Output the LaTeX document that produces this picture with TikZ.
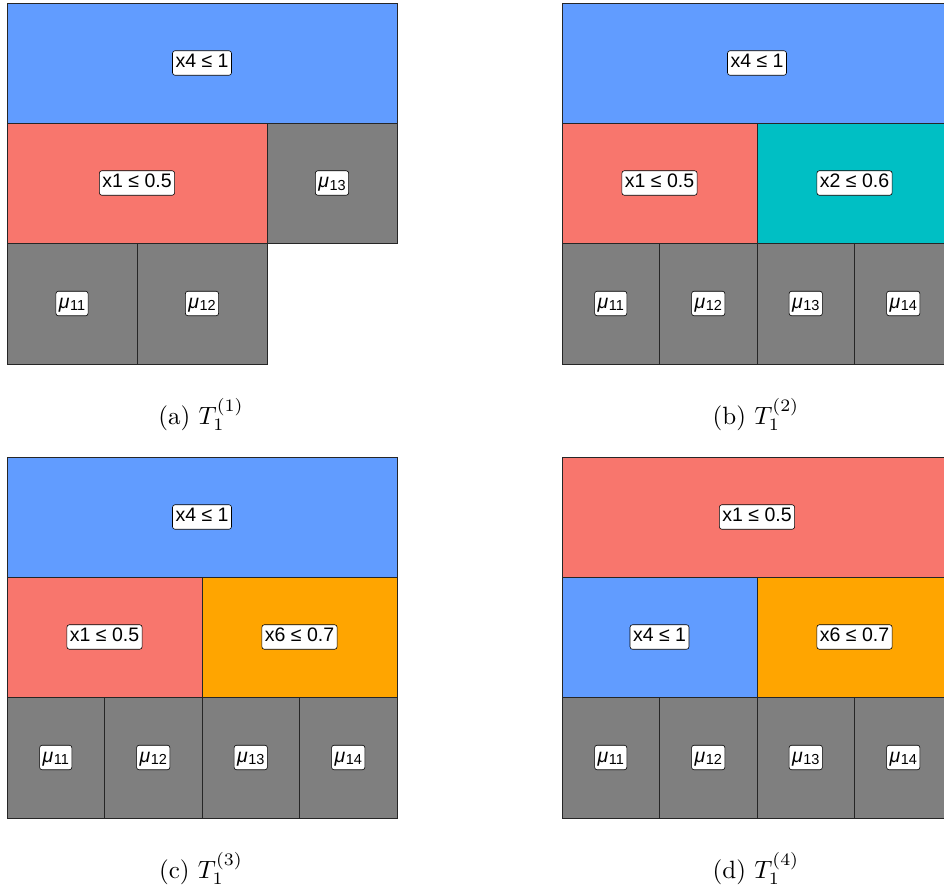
\documentclass[tikz,border=0pt]{standalone}
\usepackage{fontspec}
\usepackage{graphicx}
\newfontfamily\lblfont{Liberation Sans}
\usetikzlibrary{calc}
\definecolor{cblue}{HTML}{619CFF}
\definecolor{cred}{HTML}{F8766D}
\definecolor{ccyan}{HTML}{00BFC4}
\definecolor{corange}{HTML}{FFA500}
\definecolor{cgray}{HTML}{7F7F7F}
\newcommand\mycell[7]{%
  \filldraw[fill=#5, cellline] (#1,#2) rectangle ++(#3,#4);
  \node[lbl] (#6) at ({#1+#3/2},{#2+#4/2}) {#7};}
\newcommand\mymu[1]{{\itshape μ}\kern0.5pt\raisebox{-2.5pt}{\fontsize{14.5}{14.5}\selectfont #1}}
\newcommand\mycap[1]{\scalebox{2.5}{\fontsize{10}{12}\selectfont #1}}
\tikzset{
  cellline/.style={draw=black!85, line width=0.9pt},
  lbl/.style={draw=black, line width=0.6pt, fill=white, rounded corners=2.5pt,
    inner xsep=3pt, inner ysep=3pt, text height=14pt, text depth=4.5pt,
    font=\lblfont\fontsize{19.5}{19.5}\selectfont},
  capt/.style={anchor=base, inner sep=0pt}
}
\begin{document}
\begin{tikzpicture}[x=1pt,y=-1pt]
\useasboundingbox (0,0) rectangle (944,891);
% panel (a)
\mycell{7}{3}{390}{120}{cblue}{a1}{x4 ≤ 1}
\mycell{7}{123}{260}{120}{cred}{a2}{x1 ≤ 0.5}
\mycell{267}{123}{130}{120}{cgray}{a3}{\mymu{13}}
\mycell{7}{243}{130}{121}{cgray}{a4}{\mymu{11}}
\mycell{137}{243}{130}{121}{cgray}{a5}{\mymu{12}}
\node[capt] (capa) at (201,424) {\mycap{(a) $T_1^{(1)}$}};
% panel (b)
\mycell{562}{3}{390}{120}{cblue}{b1}{x4 ≤ 1}
\mycell{562}{123}{195}{120}{cred}{b2}{x1 ≤ 0.5}
\mycell{757}{123}{195}{120}{ccyan}{b3}{x2 ≤ 0.6}
\mycell{562}{243}{97.5}{121}{cgray}{b4}{\mymu{11}}
\mycell{659.5}{243}{97.5}{121}{cgray}{b5}{\mymu{12}}
\mycell{757}{243}{97.5}{121}{cgray}{b6}{\mymu{13}}
\mycell{854.5}{243}{97.5}{121}{cgray}{b7}{\mymu{14}}
\node[capt] (capb) at (756,424) {\mycap{(b) $T_1^{(2)}$}};
% panel (c)
\mycell{7}{457}{390}{120}{cblue}{c1}{x4 ≤ 1}
\mycell{7}{577}{195}{120}{cred}{c2}{x1 ≤ 0.5}
\mycell{202}{577}{195}{120}{corange}{c3}{x6 ≤ 0.7}
\mycell{7}{697}{97.5}{121}{cgray}{c4}{\mymu{11}}
\mycell{104.5}{697}{97.5}{121}{cgray}{c5}{\mymu{12}}
\mycell{202}{697}{97.5}{121}{cgray}{c6}{\mymu{13}}
\mycell{299.5}{697}{97.5}{121}{cgray}{c7}{\mymu{14}}
\node[capt] (capc) at (201,878) {\mycap{(c) $T_1^{(3)}$}};
% panel (d)
\mycell{562}{457}{390}{120}{cred}{d1}{x1 ≤ 0.5}
\mycell{562}{577}{195}{120}{cblue}{d2}{x4 ≤ 1}
\mycell{757}{577}{195}{120}{corange}{d3}{x6 ≤ 0.7}
\mycell{562}{697}{97.5}{121}{cgray}{d4}{\mymu{11}}
\mycell{659.5}{697}{97.5}{121}{cgray}{d5}{\mymu{12}}
\mycell{757}{697}{97.5}{121}{cgray}{d6}{\mymu{13}}
\mycell{854.5}{697}{97.5}{121}{cgray}{d7}{\mymu{14}}
\node[capt] (capd) at (756,878) {\mycap{(d) $T_1^{(4)}$}};
\end{tikzpicture}
\end{document}
